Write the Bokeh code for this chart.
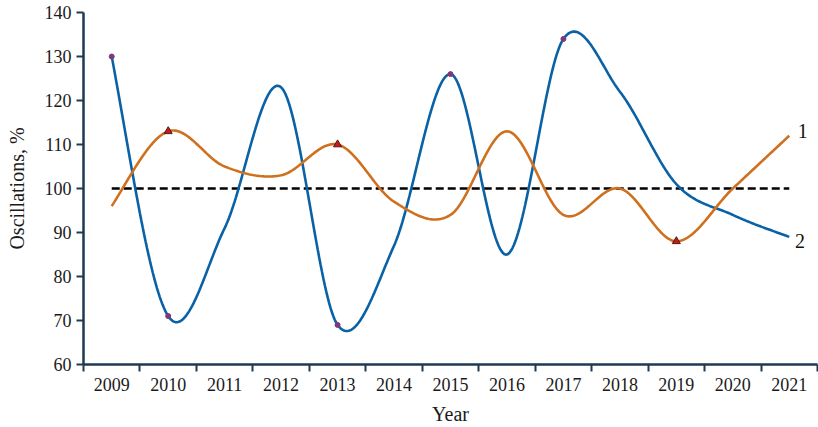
import numpy as np
from bokeh.plotting import figure
from bokeh.models import Range1d, FixedTicker, ColumnDataSource
from bokeh.core.properties import value
from bokeh.embed import file_html
from bokeh.resources import INLINE

# ---- data -------------------------------------------------------------
years = [2009, 2010, 2011, 2012, 2013, 2014, 2015, 2016, 2017, 2018, 2019, 2020, 2021]
series_1 = [96, 113, 105, 103, 110, 97, 94, 113, 94, 100, 88, 100, 112]
series_2 = [130, 71, 91, 123, 69, 87, 126, 85, 134, 122, 101, 94, 89]
baseline = 100
marked_1 = [2010, 2013, 2019]
marked_2 = [2009, 2010, 2013, 2015, 2017]
y_ticks = [60, 70, 80, 90, 100, 110, 120, 130, 140]

FONT = "Liberation Serif"
AXIS_COLOR = "#1d3a52"
BLUE = "#0a62a6"
ORANGE = "#cf701e"


def smooth(xs, ys, n=40):
    """Catmull-Rom style smoothed line through the points."""
    xs = np.asarray(xs, float)
    ys = np.asarray(ys, float)
    m = np.zeros_like(ys)
    m[1:-1] = (ys[2:] - ys[:-2]) / 2.0
    m[0] = (5 * (ys[1] - ys[0]) - m[1]) / 4.0
    m[-1] = (5 * (ys[-1] - ys[-2]) - m[-2]) / 4.0
    out_x, out_y = [], []
    for i in range(len(xs) - 1):
        t = np.linspace(0, 1, n, endpoint=(i == len(xs) - 2))
        h00 = 2 * t**3 - 3 * t**2 + 1
        h10 = t**3 - 2 * t**2 + t
        h01 = -2 * t**3 + 3 * t**2
        h11 = t**3 - t**2
        out_x.extend(xs[i] + t * (xs[i + 1] - xs[i]))
        out_y.extend(h00 * ys[i] + h10 * m[i] + h01 * ys[i + 1] + h11 * m[i + 1])
    return out_x, out_y


p = figure(
    width=818, height=427,
    x_range=Range1d(years[0] - 0.5, years[-1] + 0.5),
    y_range=Range1d(y_ticks[0], y_ticks[-1]),
    output_backend="svg", toolbar_location=None,
    min_border_left=83, min_border_right=1, min_border_top=12, min_border_bottom=62,
)
p.outline_line_color = None
p.xgrid.visible = False
p.ygrid.visible = False
p.background_fill_color = "white"
p.border_fill_color = "white"

# reference level
p.line([years[0], years[-1]], [baseline, baseline], line_color="black",
       line_width=2.6, line_dash="8 4")

# smoothed series
x1, y1 = smooth(years, series_1)
x2, y2 = smooth(years, series_2)
p.line(x2, y2, line_color=BLUE, line_width=2.6)
p.line(x1, y1, line_color=ORANGE, line_width=2.6)

# highlighted points
m2 = ColumnDataSource(dict(x=marked_2, y=[series_2[years.index(v)] for v in marked_2]))
p.scatter("x", "y", source=m2, marker="circle", size=5,
          fill_color="#7d3a78", line_color="#7d3a78")
m1 = ColumnDataSource(dict(x=marked_1, y=[series_1[years.index(v)] for v in marked_1]))
p.scatter("x", "y", source=m1, marker="triangle", size=8,
          fill_color="#d2141c", line_color="#4a1a10", line_width=1)

# series labels at the line ends
p.text(x=[years[-1] + 0.24], y=[series_1[-1] + 1.0], text=["1"],
       text_font=value(FONT), text_font_size="20px", text_color="#111111",
       text_align="center", text_baseline="middle")
p.text(x=[years[-1] + 0.19], y=[series_2[-1] - 0.9], text=["2"],
       text_font=value(FONT), text_font_size="20px", text_color="#111111",
       text_align="center", text_baseline="middle")

# x axis: labels at year centres, ticks on the boundaries
xa = p.xaxis[0]
xa.ticker = FixedTicker(ticks=years,
                        minor_ticks=[y - 0.5 for y in years] + [years[-1] + 0.5])
xa.major_label_overrides = {y: str(y) for y in years}
xa.major_tick_out = 0
xa.major_tick_in = 0
xa.minor_tick_out = 7
xa.minor_tick_in = 0
xa.minor_tick_line_color = AXIS_COLOR
xa.minor_tick_line_width = 2
xa.axis_label = "Year"
xa.major_label_standoff = 6
xa.axis_label_standoff = 9

# y axis
ya = p.yaxis[0]
ya.ticker = FixedTicker(ticks=y_ticks, minor_ticks=[])
ya.major_tick_out = 7
ya.major_tick_in = 0
ya.major_tick_line_color = AXIS_COLOR
ya.major_tick_line_width = 2
ya.axis_label = "Oscillations, %"
ya.major_label_standoff = 5
ya.axis_label_standoff = 14

for ax in (xa, ya):
    ax.axis_line_color = AXIS_COLOR
    ax.axis_line_width = 2.5
    ax.major_label_text_font = FONT
    ax.major_label_text_font_size = "18px"
    ax.major_label_text_color = "#1a1a1a"
    ax.axis_label_text_font = FONT
    ax.axis_label_text_font_size = "20px"
    ax.axis_label_text_font_style = "normal"
    ax.axis_label_text_color = "#1a1a1a"

open("out.html", "w").write(file_html(p, INLINE))
